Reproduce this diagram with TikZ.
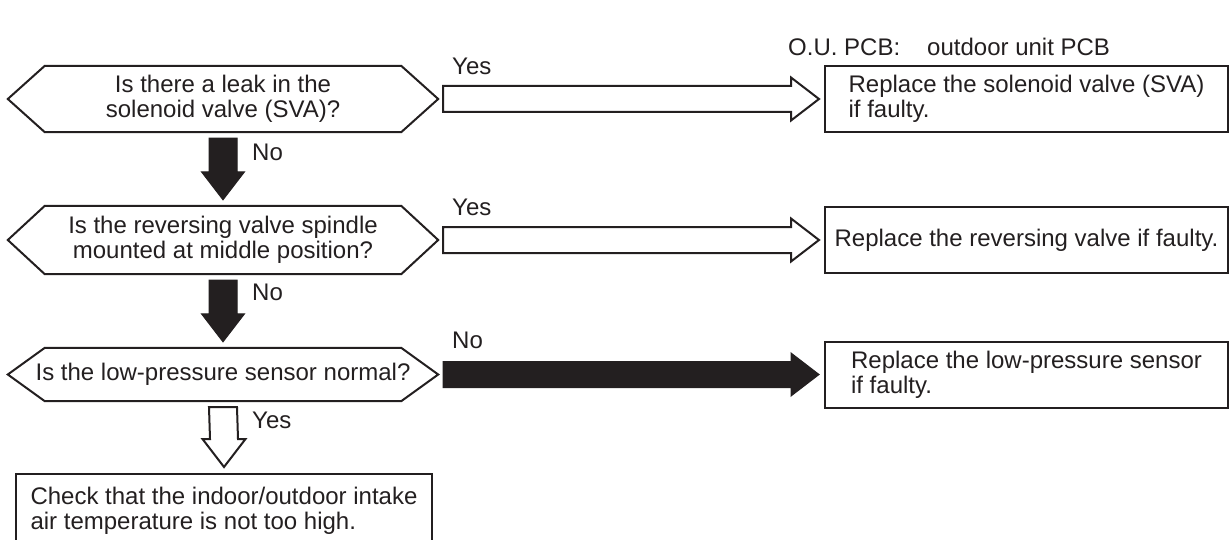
\documentclass[tikz,border=0pt]{standalone}
\usepackage{fontspec}
\setmainfont{Liberation Sans}
\usepackage{tikz}
\usetikzlibrary{positioning,calc}
\definecolor{inkcol}{HTML}{231F20}
\tikzset{
  res/.style={draw=inkcol, line width=2pt, text=inkcol, minimum width=403,
    minimum height=66, inner sep=0pt, align=left}}

\begin{document}
\begin{tikzpicture}[x=1pt, y=1pt, font=\fontsize{24}{25}\selectfont,
      qn/.style={minimum width=430, minimum height=#1, inner sep=0pt,
        text=inkcol, align=center},
      hexline/.style={draw=inkcol, line width=2pt},
      lbl/.style={anchor=west, inner sep=0pt, text=inkcol},
      hfat/.style={to path={($(\tikztostart)+(5,13)$) -- ($(\tikztotarget)+(-33,13)$)
        -- ++(0,8.5) -- ($(\tikztotarget)+(-5,0)$) -- ++(-28,-21.5) -- ++(0,8.5)
        -- ($(\tikztostart)+(5,-13)$) -- cycle}},
      vfat/.style={to path={($(\tikztostart)+(-14,-6)$) -- ($(\tikztotarget)+(-14,34)$)
        -- ++(-7.5,0) -- ($(\tikztotarget)+(0,6)$) -- ++(21.5,28) -- ++(-7.5,0)
        -- ($(\tikztostart)+(14,-6)$) -- cycle}},
      yesarr/.style={draw=inkcol, line width=2pt, fill=white},
      noarr/.style={draw=inkcol, line width=1pt, fill=inkcol}]
      \useasboundingbox (0,0) rectangle (1230,-540);
      \node[lbl] (abbr) at (788,-47) {O.U. PCB:\hspace{27pt}outdoor unit PCB};
      \node[qn=66] (q1) at (223,-99) {Is there a leak in the\\ solenoid valve (SVA)?};
      \node[qn=68] (q2) at (223,-240) {Is the reversing valve spindle\\ mounted at middle position?};
      \node[qn=53] (q3) at (223,-374.5) {Is the low-pressure sensor normal?};
      \foreach \q in {q1,q2,q3}
        \draw[hexline] (\q.west) -- ([xshift=37]\q.north west) -- ([xshift=-37]\q.north east)
          -- (\q.east) -- ([xshift=-37]\q.south east) -- ([xshift=37]\q.south west) -- cycle;
      \node[res] (r1) at (1026.5,-99) {Replace the solenoid valve (SVA)\\ if faulty.};
      \node[res] (r2) at (1026.5,-240) {Replace the reversing valve if faulty.};
      \node[res] (r3) at (1026.5,-374.5) {Replace the low-pressure sensor\\ if faulty.};
      \node[res, minimum width=416, minimum height=74] (r4) at (224,-511)
        {Check that the indoor/outdoor intake\\ air temperature is not too high.};
      \draw[yesarr] (q1.east) to[hfat] (r1.west);
      \draw[yesarr] (q2.east) to[hfat] (r2.west);
      \draw[noarr] (q3.east) to[hfat] (r3.west);
      \draw[noarr] (q1.south) to[vfat] (q2.north);
      \draw[noarr] (q2.south) to[vfat] (q3.north);
      \draw[yesarr] (q3.south) to[vfat] (r4.north);
      \node[lbl] (y1) at (452,-66) {Yes};
      \node[lbl] (y2) at (452,-207) {Yes};
      \node[lbl] (n3) at (452,-340) {No};
      \node[lbl] (n1) at (252,-152) {No};
      \node[lbl] (n2) at (252,-292) {No};
      \node[lbl] (y3) at (252,-420) {Yes};
    \end{tikzpicture}
\end{document}
